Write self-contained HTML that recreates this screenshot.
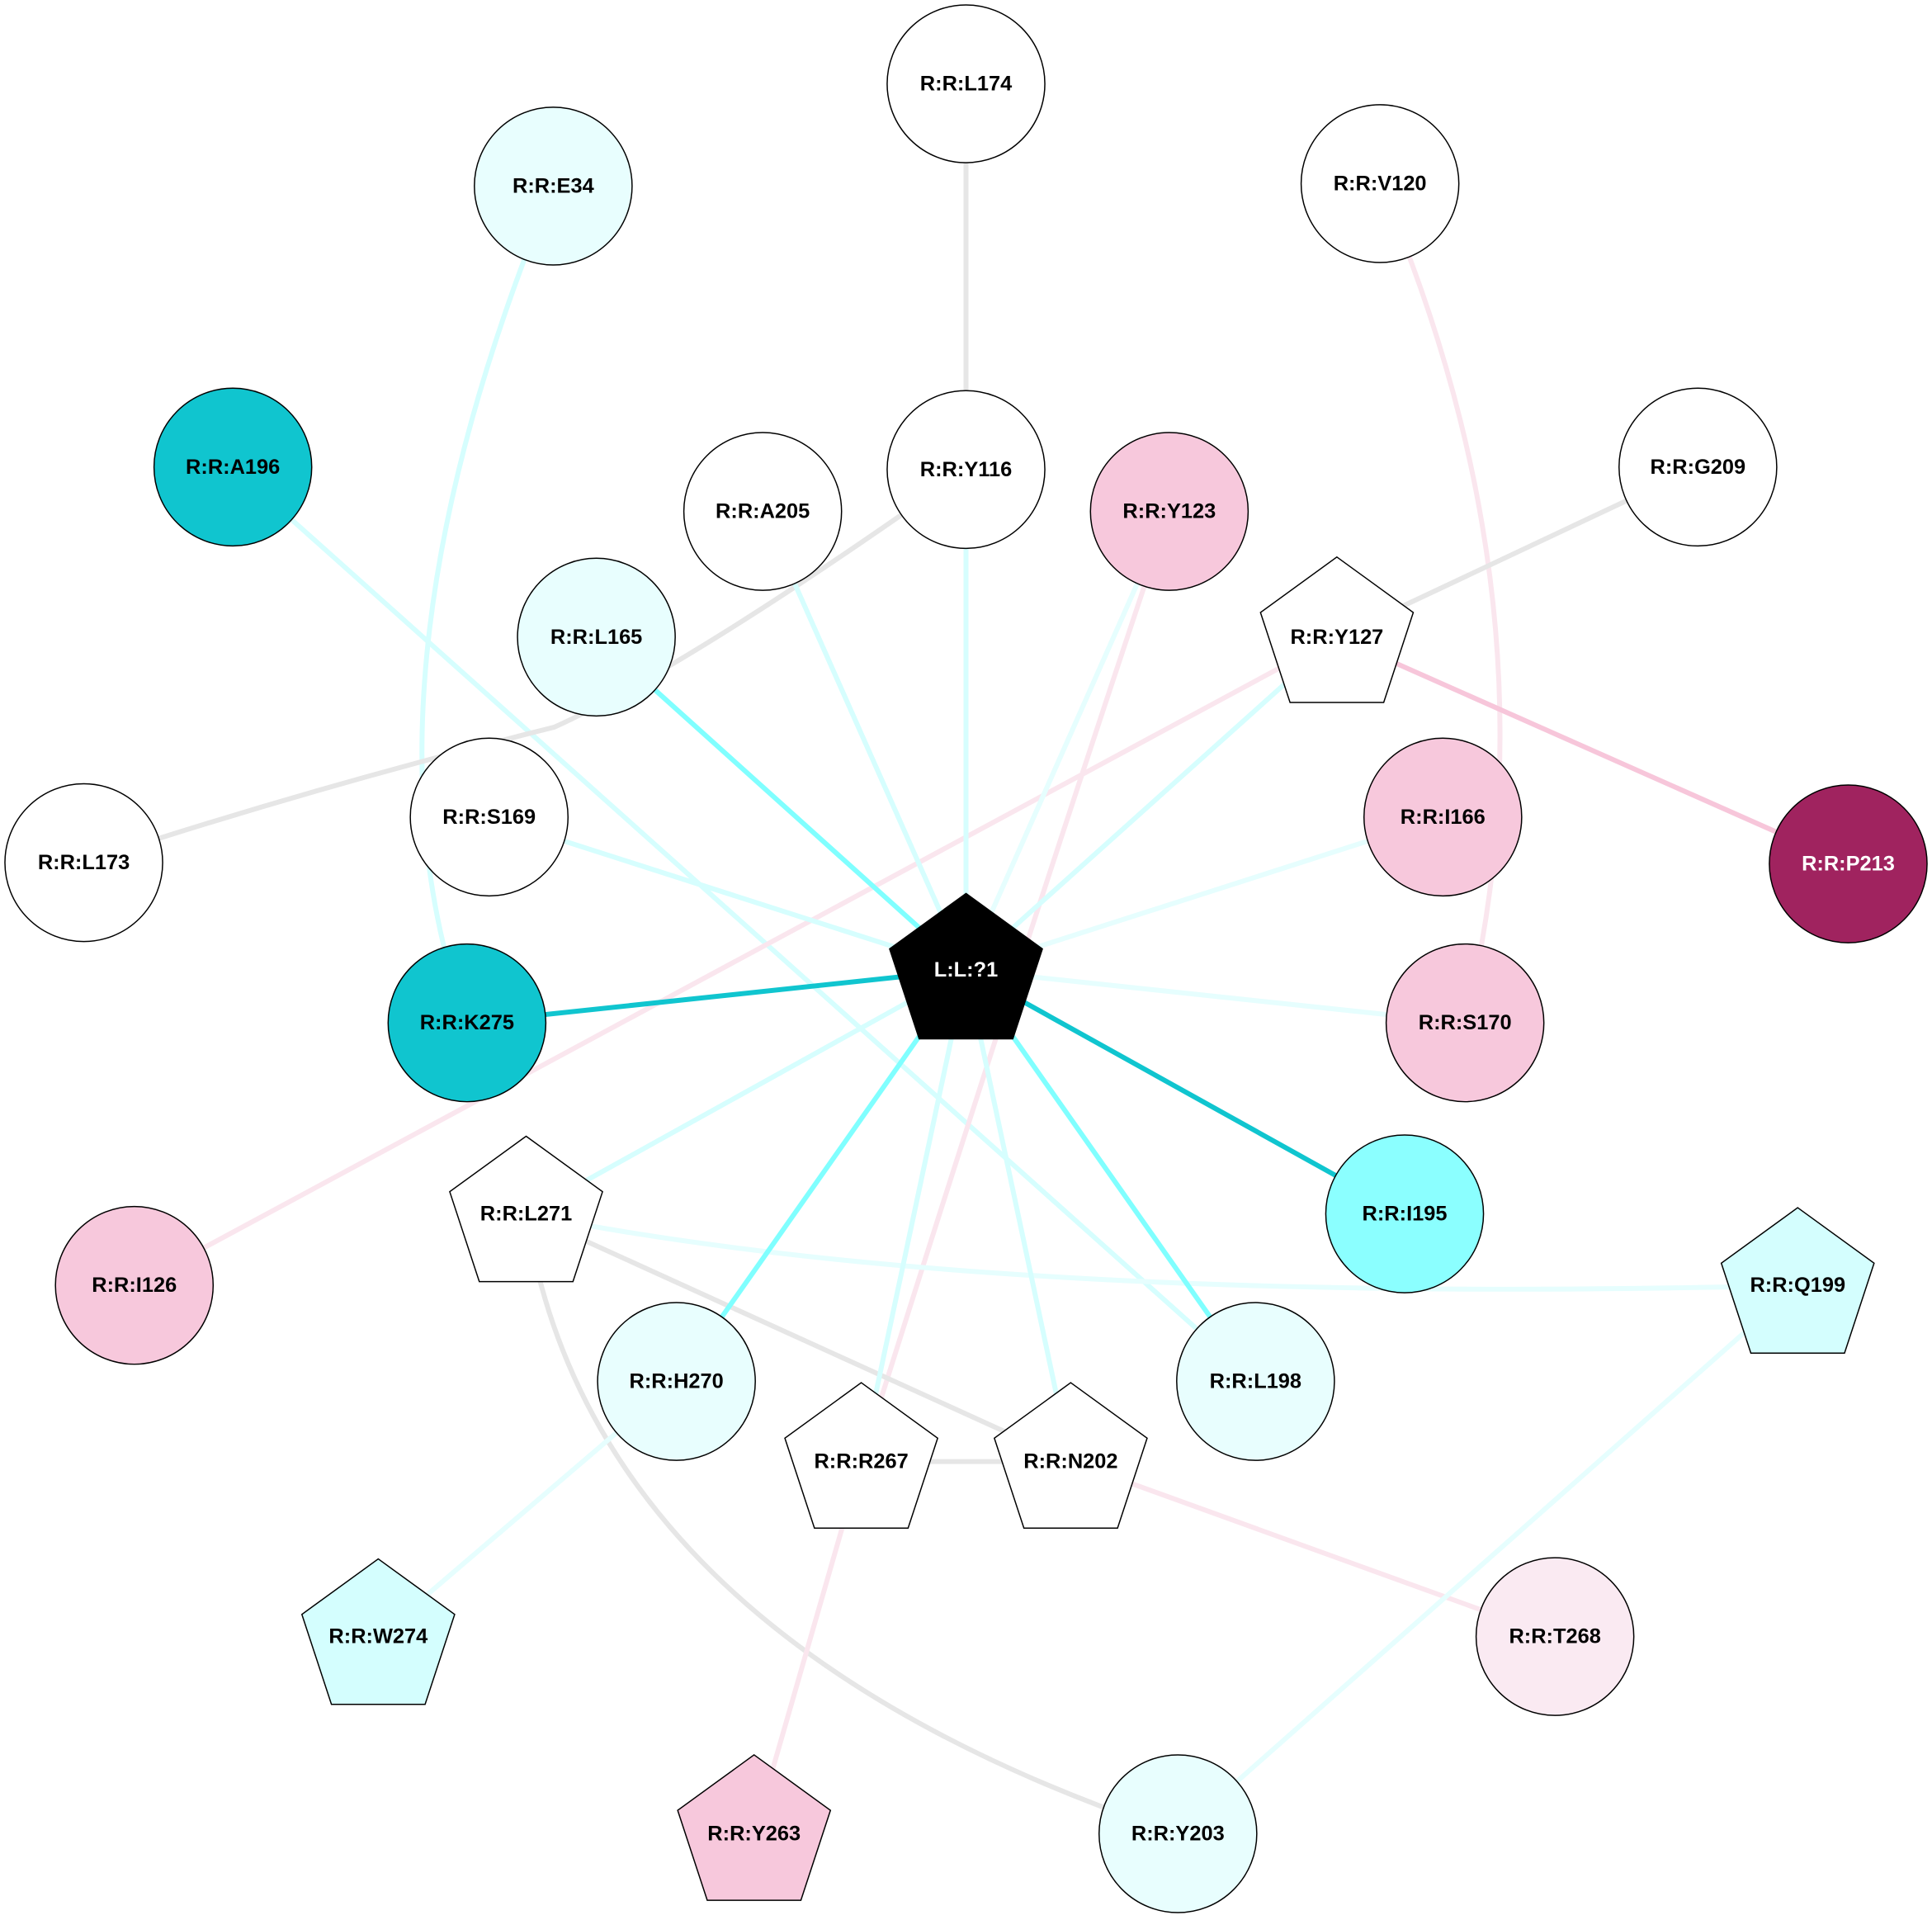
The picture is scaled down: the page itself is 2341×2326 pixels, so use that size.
<!DOCTYPE html>
<html><head><meta charset="utf-8"><style>
html,body{margin:0;padding:0;background:#fff;}
svg{display:block;}
text{font-family:"Liberation Sans",Arial,sans-serif;font-weight:bold;font-size:17px;text-anchor:middle;dominant-baseline:central;}
</style></head><body>
<svg width="2341" height="2326" viewBox="0 0 1568 1558" preserveAspectRatio="none" xmlns="http://www.w3.org/2000/svg">
<g fill="none" stroke-width="4">
<line x1="784" y1="68" x2="784" y2="381" stroke="#e6e6e6"/>
<path d="M449,151 Q280,560 379,830" stroke="#d6fefe"/>
<path d="M1120,149 Q1270,500 1189,830" stroke="#fae6ee"/>
<line x1="189" y1="379" x2="1019" y2="1121" stroke="#d6fefe"/>
<path d="M784,381 Q560,540 450,590 Q250,640 68,700" stroke="#e6e6e6"/>
<line x1="1378" y1="379" x2="1085" y2="517" stroke="#e6e6e6"/>
<line x1="1085" y1="517" x2="1500" y2="701" stroke="#f7c6da"/>
<line x1="1085" y1="517" x2="109" y2="1043" stroke="#fae6ee"/>
<path d="M949,415 Q820,800 699,1186" stroke="#fae6ee"/>
<path d="M427,985 Q800,1060 1459,1043" stroke="#e6fefe"/>
<line x1="427" y1="985" x2="869" y2="1186" stroke="#e6e6e6"/>
<path d="M427,985 Q480,1330 956,1488" stroke="#e6e6e6"/>
<line x1="699" y1="1186" x2="869" y2="1186" stroke="#e6e6e6"/>
<line x1="869" y1="1186" x2="1262" y2="1328" stroke="#fae6ee"/>
<line x1="699" y1="1186" x2="612" y2="1488" stroke="#fae6ee"/>
<line x1="549" y1="1121" x2="307" y2="1328" stroke="#e6fefe"/>
<line x1="1459" y1="1043" x2="956" y2="1488" stroke="#e6fefe"/>
<line x1="784" y1="787" x2="484" y2="517" stroke="#80ffff"/>
<line x1="784" y1="787" x2="619" y2="415" stroke="#d6fefe"/>
<line x1="784" y1="787" x2="784" y2="381" stroke="#d6fefe"/>
<line x1="784" y1="787" x2="949" y2="415" stroke="#e6fefe"/>
<line x1="784" y1="787" x2="1085" y2="517" stroke="#d6fefe"/>
<line x1="784" y1="787" x2="397" y2="663" stroke="#d6fefe"/>
<line x1="784" y1="787" x2="1171" y2="663" stroke="#e6fefe"/>
<line x1="784" y1="787" x2="379" y2="830" stroke="#10c5cf"/>
<line x1="784" y1="787" x2="1189" y2="830" stroke="#e6fefe"/>
<line x1="784" y1="787" x2="1140" y2="985" stroke="#10c5cf"/>
<line x1="784" y1="787" x2="1019" y2="1121" stroke="#80ffff"/>
<line x1="784" y1="787" x2="869" y2="1186" stroke="#d6fefe"/>
<line x1="784" y1="787" x2="699" y2="1186" stroke="#d6fefe"/>
<line x1="784" y1="787" x2="549" y2="1121" stroke="#80ffff"/>
<line x1="784" y1="787" x2="427" y2="985" stroke="#d6fefe"/>
</g>
<g stroke="#000" stroke-width="1">
<circle cx="784" cy="68" r="64" fill="#fff"/>
<circle cx="449" cy="151" r="64" fill="#e8fefe"/>
<circle cx="1120" cy="149" r="64" fill="#fff"/>
<circle cx="189" cy="379" r="64" fill="#10c5cf"/>
<circle cx="784" cy="381" r="64" fill="#fff"/>
<circle cx="619" cy="415" r="64" fill="#fff"/>
<circle cx="949" cy="415" r="64" fill="#f7c8dc"/>
<circle cx="1378" cy="379" r="64" fill="#fff"/>
<circle cx="484" cy="517" r="64" fill="#e8fefe"/>
<circle cx="397" cy="663" r="64" fill="#fff"/>
<circle cx="1171" cy="663" r="64" fill="#f7c8dc"/>
<circle cx="68" cy="700" r="64" fill="#fff"/>
<circle cx="1500" cy="701" r="64" fill="#a0235f"/>
<circle cx="379" cy="830" r="64" fill="#10c5cf"/>
<circle cx="1189" cy="830" r="64" fill="#f7c8dc"/>
<circle cx="1140" cy="985" r="64" fill="#8bffff"/>
<circle cx="109" cy="1043" r="64" fill="#f7c8dc"/>
<circle cx="549" cy="1121" r="64" fill="#e8fefe"/>
<circle cx="1019" cy="1121" r="64" fill="#e8fefe"/>
<circle cx="1262" cy="1328" r="64" fill="#faeaf2"/>
<circle cx="956" cy="1488" r="64" fill="#e8fefe"/>
<polygon points="1085,452 1147,497 1123,570 1047,570 1023,497" fill="#fff"/>
<polygon points="784,725 846,770 822,843 746,843 722,770" fill="#000"/>
<polygon points="427,922 489,967 465,1040 389,1040 365,967" fill="#fff"/>
<polygon points="1459,980 1521,1025 1497,1098 1421,1098 1397,1025" fill="#d4fefe"/>
<polygon points="699,1122 761,1167 737,1240 661,1240 637,1167" fill="#fff"/>
<polygon points="869,1122 931,1167 907,1240 831,1240 807,1167" fill="#fff"/>
<polygon points="307,1265 369,1310 345,1383 269,1383 245,1310" fill="#d4fefe"/>
<polygon points="612,1424 674,1469 650,1542 574,1542 550,1469" fill="#f7c8dc"/>
</g>
<g fill="#000">
<text x="784" y="68">R:R:L174</text>
<text x="449" y="151">R:R:E34</text>
<text x="1120" y="149">R:R:V120</text>
<text x="189" y="379">R:R:A196</text>
<text x="784" y="381">R:R:Y116</text>
<text x="619" y="415">R:R:A205</text>
<text x="949" y="415">R:R:Y123</text>
<text x="1378" y="379">R:R:G209</text>
<text x="484" y="517">R:R:L165</text>
<text x="1085" y="517">R:R:Y127</text>
<text x="397" y="663">R:R:S169</text>
<text x="1171" y="663">R:R:I166</text>
<text x="68" y="700">R:R:L173</text>
<text x="1500" y="701" fill="#fff">R:R:P213</text>
<text x="784" y="787" fill="#fff">L:L:?1</text>
<text x="379" y="830">R:R:K275</text>
<text x="1189" y="830">R:R:S170</text>
<text x="427" y="985">R:R:L271</text>
<text x="1140" y="985">R:R:I195</text>
<text x="109" y="1043">R:R:I126</text>
<text x="1459" y="1043">R:R:Q199</text>
<text x="549" y="1121">R:R:H270</text>
<text x="1019" y="1121">R:R:L198</text>
<text x="699" y="1186">R:R:R267</text>
<text x="869" y="1186">R:R:N202</text>
<text x="307" y="1328">R:R:W274</text>
<text x="1262" y="1328">R:R:T268</text>
<text x="612" y="1488">R:R:Y263</text>
<text x="956" y="1488">R:R:Y203</text>
</g>
</svg>
</body></html>
